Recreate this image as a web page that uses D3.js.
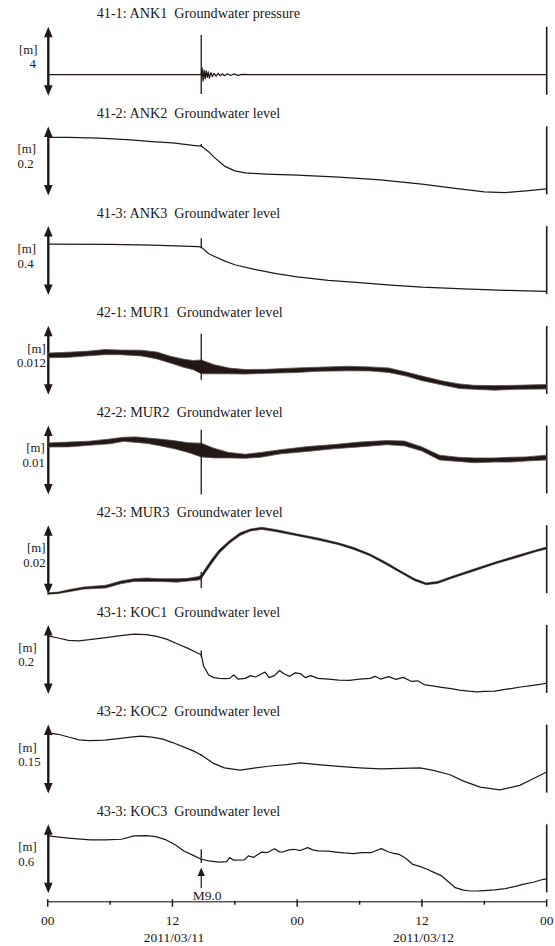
<!DOCTYPE html>
<html><head><meta charset="utf-8">
<script src="https://cdn.jsdelivr.net/npm/d3@7"></script>
<style>
body{margin:0;background:#fff}
text{font-family:"Liberation Serif","Times New Roman",serif;font-size:13.5px;fill:#231815}
text.title{font-size:14.2px}
text.unit{font-size:12.8px}
</style></head>
<body><svg id="c" width="555" height="946"></svg>
<script>
// ---------- axis / labels ----------
const hourTicks   = [0, 6, 12, 18, 24, 30, 36, 42, 48];
const hourLabels  = ["00", "", "12", "", "00", "", "12", "", "00"];
const dateHours   = [12, 36];
const dateLabels  = ["2011/03/11", "2011/03/12"];
const quakeHour   = 14.77;
const quakeLabel  = "M9.0";
const unitLabel   = "[m]";

const panelTitles = [
  "41-1: ANK1  Groundwater pressure",
  "41-2: ANK2  Groundwater level",
  "41-3: ANK3  Groundwater level",
  "42-1: MUR1  Groundwater level",
  "42-2: MUR2  Groundwater level",
  "42-3: MUR3  Groundwater level",
  "43-1: KOC1  Groundwater level",
  "43-2: KOC2  Groundwater level",
  "43-3: KOC3  Groundwater level"
];
const scaleValues = [4, 0.2, 0.4, 0.012, 0.01, 0.02, 0.2, 0.15, 0.6];
const scaleText   = ["4", "0.2", "0.4", "0.012", "0.01", "0.02", "0.2", "0.15", "0.6"];
// vertical spike at the quake (hi, lo) in metres
const spikeHi = [3.52, 0.149, 0.33, 0.0106, 0.0094, 0.0064, 0.126, 0.086, 0.384];
const spikeLo = [0.10, 0.141, 0.272, 0.0026, 0.0, 0.0018, 0.108, 0.082, 0.264];

// ---------- series (hours since 2011/03/11 00:00, relative level in m) ----------
const ank1T = [0,3,6.5,9,10.2,12,13.5,14.5,14.77,14.85,14.95,15.05,15.15,15.25,15.35,15.45,15.55,15.7,15.85,16.0,16.2,16.4,16.6,16.8,17.0,17.3,17.6,17.9,18.3,18.7,19.5,22,25,28,33,40,48];
const ank1V = [1.22,1.22,1.22,1.22,1.22,1.22,1.22,1.22,1.22,1.62,0.86,1.48,0.98,1.44,1.06,1.38,1.02,1.34,1.1,1.3,1.13,1.3,1.15,1.27,1.16,1.27,1.17,1.26,1.18,1.24,1.22,1.22,1.22,1.22,1.22,1.22,1.22];

const ank2T = [0,2,5,8,10,12,14,14.77,15.5,16,17,18,19,21,24,28,32,36,39,42,44,46,48];
const ank2V = [0.168,0.168,0.166,0.161,0.156,0.152,0.145,0.143,0.126,0.111,0.085,0.071,0.065,0.062,0.059,0.053,0.045,0.033,0.021,0.010,0.008,0.013,0.019];

const ank3T = [0,6,10,14.5,14.77,15.5,16,17,18,20,22,24,27,30,33,36,40,44,48];
const ank3V = [0.295,0.294,0.290,0.281,0.278,0.240,0.225,0.198,0.176,0.148,0.124,0.106,0.086,0.072,0.058,0.046,0.036,0.028,0.022];

const mur1T = [0,2,4,5.5,7,9,10.5,11.8,13,14,14.77,16,17.5,19,21,24,26,29,31,32.8,34.5,36,38,39.6,41,43,45,48];
const mur1V = [0.00685,0.00696,0.0072,0.00743,0.00738,0.00726,0.00684,0.00612,0.00552,0.00516,0.00486,0.00444,0.00414,0.0040,0.00408,0.00428,0.00444,0.00457,0.0045,0.00428,0.0036,0.00286,0.00204,0.0015,0.0013,0.0012,0.0013,0.0014];
const mur1S = [0.0004,0.00045,0.0004,0.00045,0.0004,0.0005,0.0006,0.0006,0.0007,0.0008,0.0012,0.0008,0.0005,0.0004,0.00035,0.0004,0.00035,0.0004,0.00035,0.0004,0.00035,0.0004,0.00035,0.0004,0.00035,0.0004,0.00035,0.0004];

const mur2T = [0,2,4,6,7.3,8.5,9.6,11,12.3,13.5,14.77,16,17.4,19,20.5,22.4,25,27.5,30,32.6,34.3,36,37.7,39.5,41,43,44.5,46,48];
const mur2V = [0.00718,0.00725,0.00743,0.0077,0.008,0.00795,0.0078,0.0075,0.00718,0.0068,0.00644,0.006,0.0057,0.00554,0.00575,0.00619,0.0066,0.00693,0.00725,0.00752,0.0074,0.0066,0.00535,0.0051,0.00495,0.005,0.00505,0.00515,0.00535];
const mur2S = [0.0003,0.00035,0.0003,0.00035,0.0003,0.0004,0.0004,0.0005,0.0006,0.0007,0.001,0.0007,0.0004,0.0003,0.00035,0.0003,0.00035,0.0003,0.00035,0.0003,0.00035,0.0003,0.00035,0.0003,0.00035,0.0003,0.00035,0.0003,0.00035];

const mur3T = [0,1,2,3.5,5.6,7,8.3,9.5,10.7,12.4,13.5,14.5,14.77,15.2,15.8,16.5,17.5,18.5,19.5,20.6,22,24,26,28,29.5,31,32.5,34,35.3,36.4,37.5,39,41,43,45,47,48];
const mur3V = [0.0002,0.0004,0.001,0.0018,0.0022,0.0034,0.0041,0.0042,0.0041,0.004,0.0042,0.0046,0.005,0.007,0.0096,0.0124,0.0152,0.0174,0.0186,0.0191,0.0184,0.0172,0.016,0.0146,0.0132,0.0114,0.009,0.0064,0.0042,0.003,0.0034,0.005,0.007,0.009,0.0108,0.0126,0.0134];
const mur3S = [0.0002,0.0002,0.0003,0.0003,0.0004,0.0004,0.0004,0.0005,0.0004,0.0005,0.0004,0.0005,0.0006,0.0006,0.0006,0.0005,0.0004,0.0004,0.0003,0.0003,0.0003,0.00025,0.0003,0.00025,0.0003,0.00025,0.0003,0.00025,0.0003,0.00025,0.0003,0.00025,0.0003,0.00025,0.0003,0.00025,0.0003];

const koc1T = [0,1,2,3,4,5.6,7,8.3,9.5,10.5,11.5,12.4,13.5,14.5,14.77,15,15.5,16,16.5,17,17.5,17.9,18.3,19,19.5,20,20.5,20.9,21.3,21.8,22.3,22.8,23.3,23.8,24.3,24.8,25.3,26,27,28,29,30,31,31.5,32,32.8,33.5,34.2,35,35.6,36.2,37,37.9,38.8,39.6,40.5,41.3,42,43,44,44.7,45.5,46.5,47.5,48];
const koc1V = [0.168,0.162,0.155,0.154,0.157,0.163,0.169,0.173,0.172,0.167,0.158,0.146,0.132,0.117,0.114,0.080,0.054,0.047,0.045,0.044,0.045,0.055,0.043,0.045,0.053,0.049,0.057,0.063,0.047,0.053,0.068,0.057,0.051,0.061,0.059,0.047,0.053,0.045,0.043,0.040,0.039,0.043,0.045,0.051,0.043,0.050,0.042,0.048,0.036,0.038,0.027,0.023,0.019,0.015,0.011,0.008,0.006,0.007,0.008,0.013,0.016,0.020,0.024,0.028,0.031];

const koc2T = [0,1,2,3,4,5.5,7,8,9,10,11,12,13,14,14.77,16,17,18.5,20,21.4,23,24.3,26,28,30,32,34,35.8,37,38.7,40,41.6,43.5,45.4,46.5,48];
const koc2V = [0.132,0.129,0.123,0.117,0.115,0.116,0.120,0.123,0.125,0.123,0.119,0.111,0.102,0.093,0.084,0.065,0.056,0.051,0.056,0.060,0.063,0.067,0.063,0.059,0.056,0.054,0.055,0.056,0.051,0.041,0.027,0.014,0.008,0.018,0.030,0.047];

const koc3T = [0,2,4.1,5.5,7.1,8.3,9.5,10.4,11.4,12.3,13.1,14,14.77,15.5,16.5,17.2,17.5,17.9,18.9,19.3,19.8,20.6,21.1,21.8,22.3,22.6,23.2,23.7,24.3,25,25.5,26,27,27.7,28.5,29.4,30.2,31.1,31.6,32.1,32.8,33.3,33.8,34.5,35.1,35.8,36.5,37.2,37.9,38.6,39.2,40,40.6,41.5,42.3,43,44,45,45.7,46.7,47.7,48];
const koc3V = [0.499,0.480,0.464,0.465,0.470,0.499,0.501,0.493,0.464,0.420,0.368,0.330,0.296,0.282,0.272,0.276,0.310,0.288,0.290,0.325,0.312,0.359,0.353,0.388,0.360,0.359,0.378,0.383,0.372,0.397,0.378,0.368,0.366,0.359,0.351,0.345,0.354,0.353,0.372,0.388,0.359,0.348,0.339,0.300,0.252,0.234,0.209,0.180,0.151,0.096,0.049,0.027,0.020,0.021,0.026,0.030,0.041,0.060,0.078,0.096,0.122,0.126];

// ---------- build panel table ----------
const seriesT = [ank1T, ank2T, ank3T, mur1T, mur2T, mur3T, koc1T, koc2T, koc3T];
const seriesV = [ank1V, ank2V, ank3V, mur1V, mur2V, mur3V, koc1V, koc2V, koc3V];
const seriesS = [null, null, null, mur1S, mur2S, mur3S, null, null, null];
const labelAnchor = ["end","start","start","end","end","end","start","start","start"];
const labelX      = [37.5, 17.6, 17.6, 45.8, 44.8, 45.6, 18.2, 18.2, 18.2];

const panels = panelTitles.map((t, i) => ({
  title: t, range: scaleValues[i], rangeText: scaleText[i],
  pts: seriesT[i].map((h, j) => ({h, v: seriesV[i][j], s: seriesS[i] ? seriesS[i][j] : 0})),
  hasBand: !!seriesS[i], hi: spikeHi[i], lo: spikeLo[i],
  anchor: labelAnchor[i], lx: labelX[i]
}));

// ---------- draw ----------
const ink = "#231815";
const svg = d3.select("#c");
const x = d3.scaleLinear().domain([0, 48]).range([47.7, 546.7]);
const STEP = 99.7, TOP = 26.7, BOT = 95.7;

panels.forEach((p, i) => {
  const off = i * STEP;
  const y = d3.scaleLinear().domain([0, p.range]).range([off + BOT, off + TOP]);
  const g = svg.append("g");

  g.append("text").attr("class", "title").attr("x", 96.7).attr("y", off + 18.3)
    .style("white-space", "pre").text(p.title);

  g.append("text").attr("class", "unit").attr("x", p.lx).attr("y", off + 53.6).attr("text-anchor", p.anchor).text(unitLabel);
  g.append("text").attr("class", "unit").attr("x", p.anchor === "end" && i === 0 ? 36 : p.lx).attr("y", off + 68.2)
    .attr("text-anchor", p.anchor).text(p.rangeText);

  // scale-bar double arrow
  const ax = x(0) + 0.6, yt = y(p.range), yb = y(0);
  g.append("line").attr("x1", ax).attr("x2", ax).attr("y1", yt + 8).attr("y2", yb - 8)
    .attr("stroke", ink).attr("stroke-width", 2.4);
  g.append("path").attr("d", `M${ax},${yt}L${ax-4.3},${yt+10.5}L${ax+4.3},${yt+10.5}Z`).attr("fill", ink);
  g.append("path").attr("d", `M${ax},${yb}L${ax-4.3},${yb-10.5}L${ax+4.3},${yb-10.5}Z`).attr("fill", ink);

  // right end marker
  g.append("line").attr("x1", x(48)).attr("x2", x(48)).attr("y1", yt).attr("y2", yb - 1)
    .attr("stroke", ink).attr("stroke-width", 1.6);

  if (p.hasBand) {
    const area = d3.area().x(d => x(d.h)).y0(d => y(d.v - d.s)).y1(d => y(d.v + d.s));
    g.append("path").datum(p.pts).attr("d", area).attr("fill", ink).attr("stroke", "#5a5250").attr("stroke-width", 0.8);
  }
  const line = d3.line().x(d => x(d.h)).y(d => y(d.v));
  g.append("path").datum(p.pts).attr("d", line).attr("fill", "none")
    .attr("stroke", ink).attr("stroke-width", 1.25).attr("stroke-linejoin", "round");

  // quake spike
  g.append("line").attr("x1", x(quakeHour)).attr("x2", x(quakeHour))
    .attr("y1", y(p.hi)).attr("y2", y(p.lo)).attr("stroke", ink).attr("stroke-width", 1.3);
});

// ---------- time axis ----------
const axisY = 901.7;
const axg = svg.append("g");
axg.append("line").attr("x1", x(0)).attr("x2", x(48)).attr("y1", axisY).attr("y2", axisY)
  .attr("stroke", "#555").attr("stroke-width", 1.6);
hourTicks.forEach((h, k) => {
  const major = hourLabels[k] !== "";
  axg.append("line").attr("x1", x(h)).attr("x2", x(h))
    .attr("y1", major ? axisY - 2.5 : axisY - 1).attr("y2", major ? axisY + 5 : axisY + 3)
    .attr("stroke", ink).attr("stroke-width", 1.5);
  if (major) axg.append("text").attr("x", x(h)).attr("y", 924.5).attr("text-anchor", "middle").text(hourLabels[k]);
});
dateHours.forEach((h, k) => {
  axg.append("text").attr("x", x(h) + 1.5).attr("y", 941.5).attr("text-anchor", "middle").text(dateLabels[k]);
});

// M9.0 annotation arrow
const qx = x(quakeHour);
axg.append("line").attr("x1", qx).attr("x2", qx).attr("y1", 888).attr("y2", 874)
  .attr("stroke", ink).attr("stroke-width", 1.2);
axg.append("path").attr("d", `M${qx},${867.5}L${qx-3.6},${876}L${qx+3.6},${876}Z`).attr("fill", ink);
axg.append("text").attr("x", qx - 8.5).attr("y", 899.5).text(quakeLabel);
</script>
</body></html>
